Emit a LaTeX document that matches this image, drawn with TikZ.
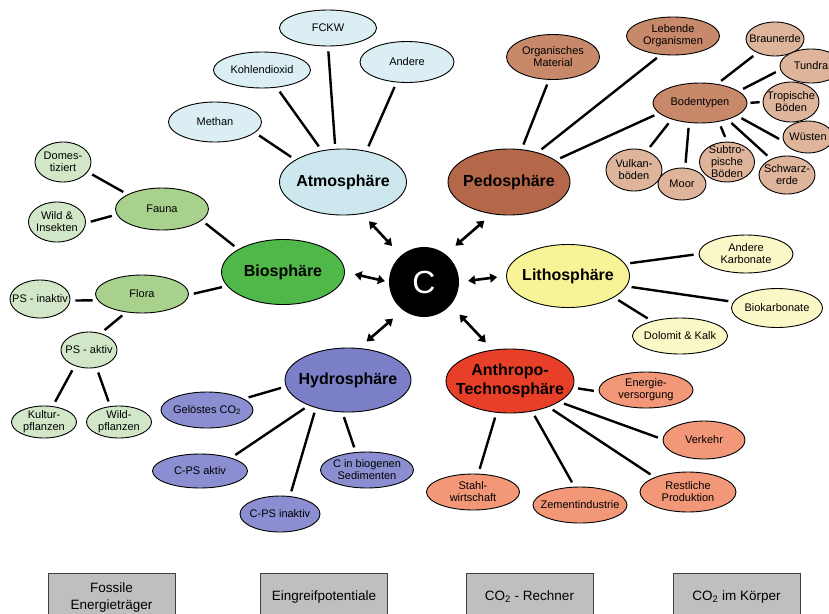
\documentclass[tikz,border=0pt]{standalone}
\usepackage{fontspec}
\setmainfont{Liberation Sans}
\usetikzlibrary{shapes.geometric}
\usetikzlibrary{arrows.meta}

\definecolor{atmoD}{HTML}{CCE8EE}
\definecolor{atmoL}{HTML}{DAEEF3}
\definecolor{pedoD}{HTML}{B5674A}
\definecolor{pedoM}{HTML}{C8896B}
\definecolor{pedoL}{HTML}{DEB49B}
\definecolor{bioD}{HTML}{50B848}
\definecolor{bioM}{HTML}{A9D18E}
\definecolor{bioL}{HTML}{D2E6C8}
\definecolor{lithoD}{HTML}{F7F396}
\definecolor{lithoL}{HTML}{FBF8C8}
\definecolor{hydroD}{HTML}{7A7FC8}
\definecolor{hydroL}{HTML}{8B8FD1}
\definecolor{anthroD}{HTML}{E84028}
\definecolor{anthroL}{HTML}{F29878}

\tikzset{
  blob/.style={ellipse, draw, line width=0.9pt, align=center},
  sphere/.style={blob, inner xsep=-12pt, inner ysep=0pt, minimum width=125pt, minimum height=65pt,
    font=\fontsize{16}{19}\selectfont\bfseries},
  leaf/.style={blob, inner xsep=-10pt, inner ysep=-2pt, minimum width=93pt, minimum height=37pt,
    font=\fontsize{11}{12}\selectfont},
  twig/.style={blob, inner xsep=-9pt, inner ysep=-4pt, minimum width=56pt, minimum height=38pt,
    font=\fontsize{11}{12}\selectfont},
  link/.style={line width=2.4pt, shorten <=5pt, shorten >=5pt},
  flux/.style={<->, >={Triangle[length=7pt,width=9pt]}, line width=2.6pt, shorten <=13pt, shorten >=10pt},
  boxbtn/.style={draw=black!75, fill=black!25, line width=1pt, minimum width=127pt, minimum height=48pt,
    align=center, font=\fontsize{13.5}{17}\selectfont}
}

\begin{document}
\begin{tikzpicture}[x=1pt, y=-1pt]
  \path[use as bounding box, clip] (0,0) rectangle (829,613);

  % Zentrum und Sphaeren
  \node[circle, fill=black, minimum size=70pt, text=white, font=\fontsize{32}{32}\selectfont] (c) at (424,282) {C};
  \node[sphere, fill=atmoD, minimum width=127pt, minimum height=66pt] (atmo) at (343,182) {Atmosphäre};
  \node[sphere, fill=pedoD, minimum width=122pt, minimum height=66pt] (pedo) at (509,182) {Pedosphäre};
  \node[sphere, fill=bioD, minimum width=123pt] (bio) at (283,272) {Biosphäre};
  \node[sphere, fill=lithoD, minimum width=123pt, minimum height=63pt] (litho) at (568,276) {Lithosphäre};
  \node[sphere, fill=hydroD, minimum width=126pt, minimum height=64pt] (hydro) at (348,380) {Hydrosphäre};
  \node[sphere, fill=anthroD, minimum width=128pt, minimum height=64pt] (anthro) at (510,381) {Anthropo-\\Technosphäre};

  % Atmosphaere
  \node[leaf, fill=atmoL, minimum width=97pt, minimum height=36pt] (fckw) at (328,28) {FCKW};
  \node[leaf, fill=atmoL, minimum width=97pt, minimum height=36pt] (kohlen) at (262,70) {Kohlendioxid};
  \node[leaf, fill=atmoL, minimum width=94pt, minimum height=41pt] (andereA) at (407,62) {Andere};
  \node[leaf, fill=atmoL, minimum height=40pt] (methan) at (215,122) {Methan};

  % Pedosphaere
  \node[leaf, fill=pedoM, minimum height=45pt] (organ) at (553,57) {Organisches\\Material};
  \node[leaf, fill=pedoM, minimum height=38pt] (lebend) at (673,36) {Lebende\\Organismen};
  \node[leaf, fill=pedoM, minimum width=94pt, minimum height=40pt] (boden) at (700,103) {Bodentypen};
  \node[twig, fill=pedoL, minimum width=58pt, minimum height=34pt] (braun) at (775,39) {Braunerde};
  \node[twig, fill=pedoL, minimum width=62pt, minimum height=34pt] (tundra) at (811,66) {Tundra};
  \node[twig, fill=pedoL, minimum height=40pt] (trop) at (791,102) {Tropische\\Böden};
  \node[twig, fill=pedoL, minimum width=50pt, minimum height=32pt] (wuesten) at (808,137) {Wüsten};
  \node[twig, fill=pedoL] (schwarz) at (787,175) {Schwarz-\\erde};
  \node[twig, fill=pedoL, minimum height=42pt] (vulkan) at (634,170) {Vulkan-\\böden};
  \node[twig, fill=pedoL, minimum width=48pt, minimum height=32pt] (moor) at (682,184) {Moor};
  \node[twig, fill=pedoL, minimum width=55pt, minimum height=40pt] (subtrop) at (727,162) {Subtro-\\pische\\Böden};

  % Biosphaere
  \node[leaf, fill=bioM, minimum height=42pt] (fauna) at (162,209) {Fauna};
  \node[twig, fill=bioL, minimum height=40pt] (domest) at (63,162) {Domes-\\tiziert};
  \node[twig, fill=bioL, minimum width=57pt, minimum height=40pt] (wild) at (57,222) {Wild \&\\Insekten};
  \node[leaf, fill=bioM, minimum height=38pt] (flora) at (142,294) {Flora};
  \node[twig, fill=bioL, minimum width=60pt] (psinakt) at (40,299) {PS - inaktiv};
  \node[twig, fill=bioL, minimum height=36pt] (psakt) at (89,350) {PS - aktiv};
  \node[twig, fill=bioL, minimum width=65pt, minimum height=32pt] (kultur) at (44,422) {Kultur-\\pflanzen};
  \node[twig, fill=bioL, minimum width=65pt, minimum height=32pt] (wildpf) at (119,422) {Wild-\\pflanzen};

  % Lithosphaere
  \node[leaf, fill=lithoL, minimum width=94pt, minimum height=38pt] (andereK) at (746,254) {Andere\\Karbonate};
  \node[leaf, fill=lithoL, minimum width=91pt, minimum height=39pt] (biokarb) at (777,308) {Biokarbonate};
  \node[leaf, fill=lithoL, minimum width=95pt, minimum height=36pt] (dolomit) at (680,336) {Dolomit \& Kalk};

  % Hydrosphaere
  \node[leaf, fill=hydroL, minimum width=92pt, minimum height=36pt] (geloest) at (207,410) {Gelöstes CO\textsubscript{2}};
  \node[leaf, fill=hydroL, minimum width=95pt, minimum height=34pt] (cpsakt) at (200,471) {C-PS aktiv};
  \node[leaf, fill=hydroL, minimum width=80pt, minimum height=36pt] (cpsinakt) at (280,514) {C-PS inaktiv};
  \node[leaf, fill=hydroL, minimum height=36pt] (cbiogen) at (367,470) {C in biogenen\\Sedimenten};

  % Anthropo-Technosphaere
  \node[leaf, fill=anthroL, minimum width=94pt, minimum height=36pt] (energie) at (646,390) {Energie-\\versorgung};
  \node[leaf, fill=anthroL, minimum width=82pt, minimum height=38pt] (verkehr) at (704,440) {Verkehr};
  \node[leaf, fill=anthroL, minimum width=96pt, minimum height=40pt] (restl) at (688,492) {Restliche\\Produktion};
  \node[leaf, fill=anthroL, minimum width=94pt, minimum height=36pt] (zement) at (580,505) {Zementindustrie};
  \node[leaf, fill=anthroL, minimum height=36pt] (stahl) at (473,492) {Stahl-\\wirtschaft};

  % Verbindungen
  \draw[link] (atmo.155) -- (methan.345);
  \draw[link] (atmo.124) -- (kohlen.310);
  \draw[link] (atmo.103) -- (fckw.270);
  \draw[link] (atmo.53) -- (andereA.243);
  \draw[link] (pedo.69) -- (organ.260);
  \draw[link] (pedo.46) -- (lebend.237);
  \draw[link] (pedo.25) -- (boden.194);
  \draw[link] (boden.48) -- (braun.218);
  \draw[link] (boden.17) -- (tundra.187);
  \draw[link, shorten <=3pt, shorten >=3pt] (boden.0) -- (trop.180);
  \draw[link] (boden.341) -- (wuesten.190);
  \draw[link] (boden.329) -- (schwarz.135);
  \draw[link] (boden.315) -- (subtrop.90);
  \draw[link] (boden.241) -- (moor.79);
  \draw[link] (boden.210) -- (vulkan.56);
  \draw[link] (bio.153) -- (fauna.344);
  \draw[link] (bio.194) -- (flora.359);
  \draw[link] (fauna.157) -- (domest.338);
  \draw[link] (fauna.187) -- (wild.358);
  \draw[link] (flora.188) -- (psinakt.357);
  \draw[link] (flora.229) -- (psakt.55);
  \draw[link] (psakt.228) -- (kultur.61);
  \draw[link] (psakt.293) -- (wildpf.119);
  \draw[link] (litho.12) -- (andereK.180);
  \draw[link] (litho.350) -- (biokarb.172);
  \draw[link] (litho.335) -- (dolomit.152);
  \draw[link] (hydro.186) -- (geloest.17);
  \draw[link] (hydro.213) -- (cpsakt.23);
  \draw[link] (hydro.221) -- (cpsinakt.61);
  \draw[link] (hydro.260) -- (cbiogen.122);
  \draw[link] (anthro.354) -- (energie.182);
  \draw[link] (anthro.337) -- (verkehr.179);
  \draw[link] (anthro.326) -- (restl.156);
  \draw[link] (anthro.306) -- (zement.107);
  \draw[link] (anthro.247) -- (stahl.74);

  % Austausch mit C
  \draw[flux] (c.131) -- (atmo.301);
  \draw[flux] (c.52) -- (pedo.242);
  \draw[flux, shorten <=4pt] (c.180) -- (bio.0);
  \draw[flux, shorten <=9pt, shorten >=9pt] (c.0) -- (litho.180);
  \draw[flux] (c.233) -- (hydro.71);
  \draw[flux] (c.319) -- (anthro.119);

  % Schaltflaechen
  \node[boxbtn] (fossil) at (111.5,597) {Fossile\\Energieträger};
  \node[boxbtn] (eingriff) at (324,597) {Eingreifpotentiale};
  \node[boxbtn] (rechner) at (529.5,597) {CO\textsubscript{2} - Rechner};
  \node[boxbtn] (koerper) at (736.5,597) {CO\textsubscript{2} im Körper};
\end{tikzpicture}
\end{document}
